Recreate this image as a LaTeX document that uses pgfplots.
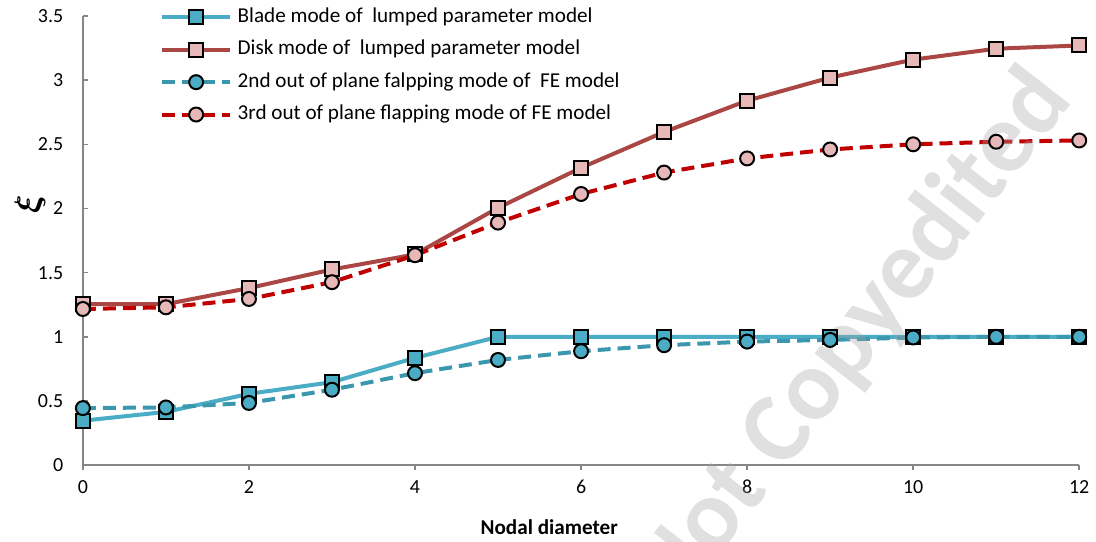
\documentclass[border=0pt]{standalone}
\usepackage{graphicx}
\usepackage{pgfplots}
\pgfplotsset{compat=1.18}
\usepackage{fontspec}
\usepackage{bm}
\setmainfont{Carlito}
\definecolor{bladeC}{HTML}{4BACC6}
\definecolor{feblue}{HTML}{3A97AE}
\definecolor{diskC}{HTML}{AA4643}
\definecolor{fered}{HTML}{C00000}
\definecolor{pinkfill}{HTML}{E6B9B8}
\definecolor{axisgray}{HTML}{868686}
\begin{document}
\begin{tikzpicture}
\begin{axis}[
  scale only axis, width=499pt, height=225pt,
  xmin=0, xmax=12, ymin=0, ymax=3.5,
  clip=false,
  axis lines*=left,
  axis line style={axisgray, line width=0.75pt},
  xtick={0,2,...,12}, ytick={0,0.5,...,3.5},
  major tick length=2.5pt,
  tick style={axisgray, line width=0.75pt},
  x tick style={yshift=-2.5pt},
  /pgf/number format/assume math mode=true,
  /pgf/number format/fixed,
  ticklabel style={font=\fontsize{10}{12}\selectfont, text=black},
  yticklabel style={xshift=-6.3pt},
  xticklabel style={yshift=-4pt},
  xlabel={\textbf{Nodal diameter}},
  xlabel style={font=\fontsize{10.6}{12}\selectfont, at={(rel axis cs:0.468,0)}, anchor=center, yshift=-31pt},
  ylabel={\rotatebox{90}{$\bm{\xi}$}},
  every axis y label/.style={at={(axis description cs:-0.053,0.58)}, anchor=center, rotate=0, font=\fontsize{17}{19}\selectfont},
  legend cell align=left,
  legend style={at={(rel axis cs:0.0772,1.0175)}, anchor=north west, draw=none, fill=none,
    inner sep=0pt, row sep=7.2pt, column sep=2.8pt,
    nodes={inner sep=0pt, text height=7pt, text depth=2pt},
    font=\fontsize{10.6}{12.5}\selectfont},
  legend image code/.code={\draw[mark repeat=2, mark phase=2] plot coordinates {(0pt,0pt) (17pt,0pt) (34pt,0pt)};},
]
\path (rel axis cs:-0.0832,-0.167) rectangle (rel axis cs:1.015,1.0355);

\addplot[bladeC, line width=2pt, mark=square*, mark size=3.5pt,
  mark options={fill=bladeC, draw=black, line width=1pt}]
  coordinates {(0,0.347) (1,0.415) (2,0.556) (3,0.647) (4,0.836) (5,1.0) (6,1.0) (7,1.0) (8,1.0) (9,1.0) (10,1.0) (11,1.0) (12,1.0)};
\addlegendentry{Blade mode of~ lumped parameter model}

\addplot[diskC, line width=2pt, mark=square*, mark size=3.5pt,
  mark options={fill=pinkfill, draw=black, line width=1pt}]
  coordinates {(0,1.255) (1,1.255) (2,1.38) (3,1.525) (4,1.642) (5,2.005) (6,2.317) (7,2.596) (8,2.84) (9,3.02) (10,3.16) (11,3.245) (12,3.27)};
\addlegendentry{Disk mode of~ lumped parameter model}

\addplot[feblue, line width=2pt, dash pattern=on 6.5pt off 3.5pt, mark=*, mark size=3.5pt,
  mark options={solid, fill=bladeC, draw=black, line width=1pt}]
  coordinates {(0,0.445) (1,0.45) (2,0.485) (3,0.588) (4,0.717) (5,0.82) (6,0.888) (7,0.935) (8,0.963) (9,0.976) (10,0.995) (11,1.0) (12,1.0)};
\addlegendentry{2nd out of plane falpping mode of~ FE model}

\addplot[fered, line width=2pt, dash pattern=on 6.5pt off 3.5pt, mark=*, mark size=3.5pt,
  mark options={solid, fill=pinkfill, draw=black, line width=1pt}]
  coordinates {(0,1.217) (1,1.23) (2,1.295) (3,1.426) (4,1.636) (5,1.89) (6,2.113) (7,2.28) (8,2.39) (9,2.46) (10,2.50) (11,2.52) (12,2.53)};
\addlegendentry{3rd out of plane flapping mode of FE model}

\node[overlay, rotate=52, text=black!35, text opacity=0.35, font=\fontsize{50}{55}\selectfont\bfseries, anchor=center]
  at (axis cs:9.28,0.98) {Not Copyedited};
\end{axis}
\end{tikzpicture}
\end{document}
